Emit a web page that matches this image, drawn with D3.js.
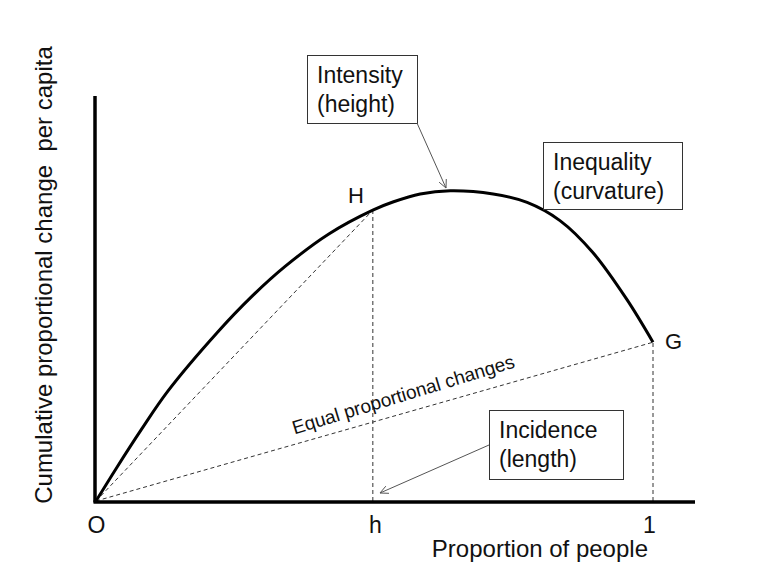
<!DOCTYPE html>
<html>
<head>
<meta charset="utf-8">
<script src="https://cdn.jsdelivr.net/npm/d3@7"></script>
<style>
  body { margin: 0; background: #fff; }
  svg text { font-family: "Liberation Sans", Arial, sans-serif; fill: #111; }
  .dash { stroke: #333; stroke-width: 1; stroke-dasharray: 4,3; fill: none; }
  .note rect { fill: #fff; stroke: #333; stroke-width: 1; }
  .pointer { stroke: #555; stroke-width: 1; fill: none; }
</style>
</head>
<body>
<svg id="chart"></svg>
<script>
  // curve: proportion of people -> cumulative change
  var curveX = [0, 0.036, 0.081, 0.129, 0.219, 0.278, 0.339, 0.418, 0.497, 0.533, 0.582, 0.636, 0.713, 0.774, 0.833, 0.892, 0.953, 1];
  var curveY = [0, 0.080, 0.176, 0.272, 0.419, 0.504, 0.580, 0.661, 0.720, 0.740, 0.760, 0.768, 0.760, 0.739, 0.694, 0.615, 0.499, 0.393];
  var hValue = 0.497;
  var tickValues = [0, hValue, 1];
  var tickLabels = ['O', 'h', '1'];

  var width = 763, height = 567;
  var svg = d3.select('#chart').attr('width', width).attr('height', height);

  var x = d3.scaleLinear().domain([0, 1]).range([96, 653]);
  var y = d3.scaleLinear().domain([0, 1]).range([501, 97]);

  var pts = curveX.map((v, i) => ({x: v, y: curveY[i]}));
  var H = pts.find((p) => p.x === hValue);
  var G = pts[pts.length - 1];

  // dashed guide lines
  var guides = [
    [{x: 0, y: 0}, H],
    [{x: 0, y: 0}, G],
    [{x: hValue, y: 0}, H],
    [{x: 1, y: 0}, G]
  ];
  svg.append('g').selectAll('line').data(guides).enter().append('line')
    .attr('class', 'dash')
    .attr('x1', (d) => x(d[0].x)).attr('y1', (d) => y(d[0].y))
    .attr('x2', (d) => x(d[1].x)).attr('y2', (d) => y(d[1].y));

  // the curve
  var line = d3.line().x((d) => x(d.x)).y((d) => y(d.y)).curve(d3.curveCatmullRom.alpha(0.5));
  svg.append('path').datum(pts)
    .attr('d', line)
    .attr('fill', 'none').attr('stroke', '#000').attr('stroke-width', 3);

  // axes
  svg.append('line').attr('x1', x(0) - 1).attr('x2', x(0) - 1)
    .attr('y1', y(1) - 1).attr('y2', y(0) + 1.5)
    .attr('stroke', '#000').attr('stroke-width', 3.5);
  svg.append('line').attr('x1', x(0) - 2.5).attr('x2', 695)
    .attr('y1', y(0) + 1).attr('y2', y(0) + 1)
    .attr('stroke', '#000').attr('stroke-width', 3.5);

  var xAxis = d3.axisBottom(x).tickValues(tickValues).tickSize(0)
    .tickFormat((d, i) => tickLabels[i]);
  var gx = svg.append('g').attr('transform', 'translate(0,' + (y(0) + 32) + ')').call(xAxis);
  gx.select('.domain').remove();
  gx.selectAll('text').attr('y', 0).attr('dy', 0).attr('font-size', 23)
    .attr('font-family', '"Liberation Sans", Arial, sans-serif').attr('fill', '#111')
    .attr('dx', (d, i) => (i === 2 ? -4 : i === 1 ? 2 : 0));

  svg.append('text').attr('x', 648).attr('y', 557).attr('text-anchor', 'end')
    .attr('font-size', 24).text('Proportion of people');

  svg.append('text')
    .attr('transform', 'translate(52,275) rotate(-90)')
    .attr('text-anchor', 'middle').attr('font-size', 24)
    .style('white-space', 'pre')
    .text('Cumulative proportional change  per capita');

  // point labels
  svg.append('text').attr('x', x(H.x) - 17).attr('y', y(H.y) - 7)
    .attr('text-anchor', 'middle').attr('font-size', 22).text('H');
  svg.append('text').attr('x', x(G.x) + 12).attr('y', y(G.y) + 7)
    .attr('font-size', 22).text('G');

  // label along the equal proportional changes line
  var ang = Math.atan2(y(G.y) - y(0), x(G.x) - x(0)) * 180 / Math.PI - 1;
  var t = 0.555;
  svg.append('text')
    .attr('transform', 'translate(' + (x(0) + t * (x(G.x) - x(0))) + ',' + (y(0) + t * (y(G.y) - y(0)) - 12) + ') rotate(' + ang + ')')
    .attr('text-anchor', 'middle').attr('font-size', 19)
    .text('Equal proportional changes');

  // annotation boxes
  var notes = [
    {lines: ['Intensity', '(height)'], box: [307, 55, 110, 68], from: [417, 123], to: [446, 188]},
    {lines: ['Inequality', '(curvature)'], box: [543, 142, 139, 67], from: null, to: null},
    {lines: ['Incidence', '(length)'], box: [489, 410, 134, 69], from: [489, 445], to: [380, 493]}
  ];
  var g = svg.append('g').attr('class', 'note').selectAll('g').data(notes).enter().append('g');
  g.append('rect')
    .attr('x', (d) => d.box[0] + 0.5).attr('y', (d) => d.box[1] + 0.5)
    .attr('width', (d) => d.box[2]).attr('height', (d) => d.box[3]);
  g.each(function (d) {
    var sel = d3.select(this);
    d.lines.forEach((s, i) => {
      sel.append('text').attr('x', d.box[0] + 10).attr('y', d.box[1] + 28 + i * 28.5)
        .attr('font-size', 23).text(s);
    });
    if (d.from) {
      var a = Math.atan2(d.to[1] - d.from[1], d.to[0] - d.from[0]);
      var len = 9, spread = 0.45;
      sel.append('line').attr('class', 'pointer')
        .attr('x1', d.from[0]).attr('y1', d.from[1]).attr('x2', d.to[0]).attr('y2', d.to[1]);
      sel.append('path').attr('class', 'pointer')
        .attr('d', 'M' + (d.to[0] - len * Math.cos(a - spread)) + ',' + (d.to[1] - len * Math.sin(a - spread)) +
          'L' + d.to[0] + ',' + d.to[1] +
          'L' + (d.to[0] - len * Math.cos(a + spread)) + ',' + (d.to[1] - len * Math.sin(a + spread)));
    }
  });
</script>
</body>
</html>
